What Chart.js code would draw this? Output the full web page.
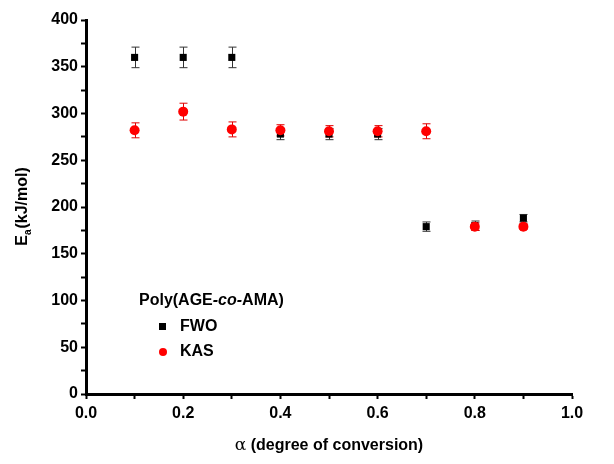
<!DOCTYPE html>
<html>
<head>
<meta charset="utf-8">
<script src="https://cdn.jsdelivr.net/npm/chart.js@4/dist/chart.umd.min.js"></script>
<style>
  body { margin: 0; background: #fff; }
  #wrap { width: 614px; height: 464px; }
</style>
</head>
<body>
<div id="wrap"><canvas id="myChart" width="614" height="464"></canvas></div>
<script>
// degree of conversion
const alpha = [0.1, 0.2, 0.3, 0.4, 0.5, 0.6, 0.7, 0.8, 0.9]
// activation energy, kJ/mol
const fwo = [360, 360, 360, 278, 278, 278, 179, 180, 188]
const fwoErr = [11, 11, 11, 6, 6, 6, 5, 5, 4]
const kas = [282, 302, 283, 282, 281, 281, 281, 179, 179]
const kasErr = [8, 9, 8, 6, 6, 6, 8, 4, 3]

const xTicks = [0, 0.2, 0.4, 0.6, 0.8, 1.0]
const yTicks = [0, 50, 100, 150, 200, 250, 300, 350, 400]

const pts = (ys, errs) => alpha.map((a, i) => ({ x: a, y: ys[i], err: errs[i] }))

const font = 'Liberation Sans, Arial, sans-serif'

//error bars drawn through the scales
const errorBars = {
    id: 'errorBars',
    beforeDatasetsDraw(chart) {
        const ctx = chart.ctx
        const xs = chart.scales.x, ys = chart.scales.y
        chart.data.datasets.forEach(ds => {
            ctx.save()
            ctx.strokeStyle = ds.errColor
            ctx.lineWidth = 1
            ds.data.forEach(p => {
                const px = Math.round(xs.getPixelForValue(p.x)) + 0.5
                const top = ys.getPixelForValue(p.y + p.err)
                const bot = ys.getPixelForValue(p.y - p.err)
                ctx.beginPath()
                ctx.moveTo(px, top); ctx.lineTo(px, bot)
                ctx.moveTo(px - 4, top); ctx.lineTo(px + 4, top)
                ctx.moveTo(px - 4, bot); ctx.lineTo(px + 4, bot)
                ctx.stroke()
            })
            ctx.restore()
        })
    }
}

//axis titles + legend box
const extras = {
    id: 'extras',
    afterDraw(chart) {
        const ctx = chart.ctx
        const area = chart.chartArea
        ctx.save()
        ctx.fillStyle = '#000'
        ctx.textBaseline = 'middle'

        // y title
        ctx.save()
        ctx.translate(23, (area.top + area.bottom) / 2)
        ctx.rotate(-Math.PI / 2)
        const t1 = 'E', t2 = 'a', t3 = '(kJ/mol)'
        ctx.font = 'bold 16px ' + font
        const w1 = ctx.measureText(t1).width
        const w3 = ctx.measureText(t3).width
        ctx.font = 'bold 10px ' + font
        const w2 = ctx.measureText(t2).width
        let x0 = -(w1 + w2 + w3) / 2
        ctx.textAlign = 'left'
        ctx.font = 'bold 16px ' + font
        ctx.fillText(t1, x0, 0)
        ctx.font = 'bold 10px ' + font
        ctx.fillText(t2, x0 + w1, 5)
        ctx.font = 'bold 16px ' + font
        ctx.fillText(t3, x0 + w1 + w2 + 1, 0)
        ctx.restore()

        // x title
        const a1 = '\u03b1', a2 = ' (degree of conversion)'
        ctx.font = '17px DejaVu Serif, serif'
        const wa = ctx.measureText(a1).width
        ctx.font = 'bold 16px ' + font
        const wb = ctx.measureText(a2).width
        let xs = (area.left + area.right) / 2 - (wa + wb) / 2
        ctx.textAlign = 'left'
        ctx.font = '17px DejaVu Serif, serif'
        ctx.fillText(a1, xs, 446)
        ctx.font = 'bold 16px ' + font
        ctx.fillText(a2, xs + wa, 446)

        // legend
        const p1 = 'Poly(AGE', p2 = '-co-', p3 = 'AMA)'
        let lx = 139
        ctx.font = 'bold 16px ' + font
        ctx.fillText(p1, lx, 301)
        lx += ctx.measureText(p1).width
        ctx.font = 'italic bold 16px ' + font
        ctx.fillText(p2, lx, 301)
        lx += ctx.measureText(p2).width
        ctx.font = 'bold 16px ' + font
        ctx.fillText(p3, lx, 301)

        ctx.fillRect(159, 323, 7, 7)
        ctx.fillStyle = '#ff0000'
        ctx.beginPath()
        ctx.arc(163, 352, 4, 0, Math.PI * 2)
        ctx.fill()
        ctx.fillStyle = '#000'
        ctx.font = 'bold 16px ' + font
        ctx.fillText('FWO', 180, 327)
        ctx.fillText('KAS', 180, 352)
        ctx.restore()
    }
}

const data = {
    datasets: [{
        label: 'FWO',
        data: pts(fwo, fwoErr),
        order: 1,
        pointStyle: 'rect',
        pointRadius: 5,
        backgroundColor: '#000',
        borderColor: '#000',
        borderWidth: 0,
        errColor: '#333'
    }, {
        label: 'KAS',
        data: pts(kas, kasErr),
        order: 0,
        pointStyle: 'circle',
        pointRadius: 5,
        backgroundColor: '#ff0000',
        borderColor: '#ff0000',
        borderWidth: 0,
        errColor: '#e00000'
    }]
}

const config = {
    type: 'scatter',
    data: data,
    plugins: [errorBars, extras],
    options: {
        responsive: false,
        animation: false,
        layout: { padding: { left: 0, right: 42, top: 20, bottom: 0 } },
        plugins: { legend: { display: false }, tooltip: { enabled: false } },
        scales: {
            x: {
                type: 'linear', min: 0, max: 1,
                afterBuildTicks: s => { s.ticks = [0, .1, .2, .3, .4, .5, .6, .7, .8, .9, 1].map(v => ({ value: v })) },
                afterFit: s => { s.height = 70 },
                ticks: {
                    color: '#000', padding: 5,
                    font: { family: font, size: 16, weight: 'bold' },
                    maxRotation: 0, autoSkip: false,
                    callback: v => xTicks.some(t => Math.abs(t - v) < 1e-6) ? v.toFixed(1) : ''
                },
                grid: { drawOnChartArea: false, tickLength: 5, tickWidth: 2, tickColor: '#000' },
                border: { color: '#000', width: 3 }
            },
            y: {
                type: 'linear', min: 0, max: 400,
                afterBuildTicks: s => {
                    const t = []
                    for (let v = 0; v <= 400; v += 25) t.push({ value: v })
                    s.ticks = t
                },
                afterFit: s => { s.width = 86 },
                ticks: {
                    color: '#000', padding: 3,
                    font: { family: font, size: 16, weight: 'bold' },
                    autoSkip: false,
                    callback: v => yTicks.includes(v) ? v : ''
                },
                grid: { drawOnChartArea: false, tickLength: 5, tickWidth: 2, tickColor: '#000' },
                border: { color: '#000', width: 3 }
            }
        }
    }
}

const myChart = new Chart(document.getElementById('myChart'), config)
</script>
</body>
</html>
